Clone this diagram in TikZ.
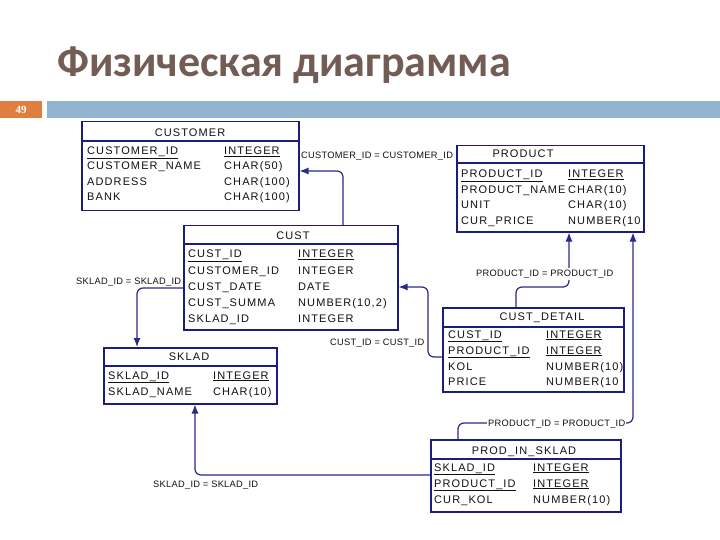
\documentclass[tikz,border=0pt]{standalone}
\usepackage{fontspec}
\setmainfont{Liberation Sans}
\newfontfamily\tabfont{Liberation Sans}[LetterSpace=10]
\newfontfamily\lblfont{Liberation Sans}[LetterSpace=3]
\newfontfamily\titlefont{Carlito}
\newfontfamily\numfont{Liberation Serif}
\usetikzlibrary{arrows.meta}
\definecolor{navy}{HTML}{1C1C7A}
\definecolor{conncol}{HTML}{2A2A8C}
\definecolor{titlecol}{HTML}{735C54}
\definecolor{barblue}{HTML}{93B4D0}
\definecolor{barorange}{HTML}{DF7E3F}
\definecolor{txt}{HTML}{111111}
\tikzset{
  tbl/.style={draw=navy, line width=1.5pt, fill=white, inner sep=0pt, anchor=north west},
  cell/.style={anchor=base west, inner sep=0pt, text=txt, font=\tabfont\fontsize{11}{13}\selectfont},
  ttl/.style={anchor=base, inner sep=0pt, text=txt, font=\tabfont\fontsize{11}{13}\selectfont},
  lbl/.style={anchor=base west, inner sep=0pt, text=txt, font=\lblfont\fontsize{9.3}{11}\selectfont},
  sepline/.style={draw=navy, line width=1.2pt},
  conn/.style={draw=conncol, line width=1.2pt, rounded corners=6pt},
  arr/.style={-{Latex[length=9pt,width=7pt]}}
}
\newcommand\trow[6]{%
  \node[cell] (#1a) at (#2,#4) {#5};
  \node[cell] (#1b) at (#3,#4) {#6};}
\begin{document}
\begin{tikzpicture}[x=1pt,y=-1pt]
\fill[white] (0,0) rectangle (720,540);
\useasboundingbox (0,0) rectangle (720,540);
% title and bar
\node[anchor=base west, inner sep=0pt, text=titlecol, font=\titlefont\bfseries\fontsize{44}{50}\selectfont] (title) at (57,77) {Физическая диаграмма};
\node[fill=barorange, anchor=north west, minimum width=42pt, minimum height=17pt, inner sep=0pt, text=white, font=\numfont\bfseries\fontsize{11}{12}\selectfont] (num) at (0,101) {49};
\node[fill=barblue, anchor=north west, minimum width=673pt, minimum height=17pt, inner sep=0pt] (bar) at (47,101) {};
% CUSTOMER
\node[tbl, minimum width=217pt, minimum height=89pt] (customer) at (81,121) {};
\draw[sepline] ([yshift=-20pt]customer.north west) -- ([yshift=-20pt]customer.north east);
\node[ttl] (customerT) at (190,137) {CUSTOMER};
\trow{cu1}{87}{224}{155}{\underline{CUSTOMER\_ID}}{\underline{INTEGER}}
\trow{cu2}{87}{224}{170}{CUSTOMER\_NAME}{CHAR(50)}
\trow{cu3}{87}{224}{185.5}{ADDRESS}{CHAR(100)}
\trow{cu4}{87}{224}{201}{BANK}{CHAR(100)}
% PRODUCT
\node[tbl, minimum width=187pt, minimum height=86pt] (product) at (456,145) {};
\draw[sepline] ([yshift=-18pt]product.north west) -- ([yshift=-18pt]product.north east);
\node[ttl] (productT) at (523,158) {PRODUCT};
\trow{pr1}{461}{568}{178}{\underline{PRODUCT\_ID}}{\underline{INTEGER}}
\trow{pr2}{461}{568}{193.5}{PRODUCT\_NAME}{CHAR(10)}
\trow{pr3}{461}{568}{209}{UNIT}{CHAR(10)}
\trow{pr4}{461}{568}{224.5}{CUR\_PRICE}{NUMBER(10}
% CUST
\node[tbl, minimum width=214pt, minimum height=104pt] (cust) at (183,225) {};
\draw[sepline] ([yshift=-19pt]cust.north west) -- ([yshift=-19pt]cust.north east);
\node[ttl] (custT) at (293,240) {CUST};
\trow{cs1}{188}{298}{258}{\underline{CUST\_ID}}{\underline{INTEGER}}
\trow{cs2}{188}{298}{274}{CUSTOMER\_ID}{INTEGER}
\trow{cs3}{188}{298}{290}{CUST\_DATE}{DATE}
\trow{cs4}{188}{298}{306}{CUST\_SUMMA}{NUMBER(10,2)}
\trow{cs5}{188}{298}{322}{SKLAD\_ID}{INTEGER}
% SKLAD
\node[tbl, minimum width=173pt, minimum height=56pt] (sklad) at (103,347) {};
\draw[sepline] ([yshift=-19pt]sklad.north west) -- ([yshift=-19pt]sklad.north east);
\node[ttl] (skladT) at (189,360) {SKLAD};
\trow{sk1}{108}{213}{379}{\underline{SKLAD\_ID}}{\underline{INTEGER}}
\trow{sk2}{108}{213}{395}{SKLAD\_NAME}{CHAR(10)}
% CUST_DETAIL
\node[tbl, minimum width=181pt, minimum height=84pt] (cdet) at (442,307) {};
\draw[sepline] ([yshift=-20pt]cdet.north west) -- ([yshift=-20pt]cdet.north east);
\node[ttl] (cdetT) at (542,320) {CUST\_DETAIL};
\trow{cd1}{448}{546}{338}{\underline{CUST\_ID}}{\underline{INTEGER}}
\trow{cd2}{448}{546}{354}{\underline{PRODUCT\_ID}}{\underline{INTEGER}}
\trow{cd3}{448}{546}{370}{KOL}{NUMBER(10)}
\trow{cd4}{448}{546}{385}{PRICE}{NUMBER(10}
% PROD_IN_SKLAD
\node[tbl, minimum width=190pt, minimum height=72pt] (pis) at (430,439) {};
\draw[sepline] ([yshift=-20pt]pis.north west) -- ([yshift=-20pt]pis.north east);
\node[ttl] (pisT) at (524,454) {PROD\_IN\_SKLAD};
\trow{ps1}{434}{533}{471}{\underline{SKLAD\_ID}}{\underline{INTEGER}}
\trow{ps2}{434}{533}{487}{\underline{PRODUCT\_ID}}{\underline{INTEGER}}
\trow{ps3}{434}{533}{503}{CUR\_KOL}{NUMBER(10)}
% connectors
\coordinate (k1) at (343,171);
\draw[conn,arr] (cust.north -| k1) |- (customer.east |- k1);
\node[lbl] (l1) at (301,159) {CUSTOMER\_ID = CUSTOMER\_ID};
\coordinate (k2a) at (428,357);
\coordinate (k2b) at (428,287);
\draw[conn,arr] (cdet.west |- k2a) -- (k2a) -- (k2b) -- (cust.east |- k2b);
\node[lbl] (l2) at (330,345) {CUST\_ID = CUST\_ID};
\coordinate (k3) at (137,288);
\draw[conn,arr] (cust.west |- k3) -| (sklad.north -| k3);
\node[lbl] (l3) at (76,284) {SKLAD\_ID = SKLAD\_ID};
\coordinate (k4a) at (516,287);
\coordinate (k4b) at (569,287);
\draw[conn,arr] (cdet.north -| k4a) -- (k4a) -- (k4b) -- (product.south -| k4b);
\node[lbl, fill=white, inner xsep=1pt, inner ysep=2pt] (l4) at (475,276) {PRODUCT\_ID = PRODUCT\_ID};
\coordinate (k5a) at (458,423);
\coordinate (k5b) at (633,423);
\draw[conn,arr] (pis.north -| k5a) -- (k5a) -- (k5b) -- (product.south -| k5b);
\node[lbl, fill=white, inner xsep=1pt, inner ysep=1pt] (l5) at (487,426) {PRODUCT\_ID = PRODUCT\_ID};
\coordinate (k6) at (195,475);
\draw[conn,arr] (pis.west |- k6) -| (sklad.south -| k6);
\node[lbl] (l6) at (153,487) {SKLAD\_ID = SKLAD\_ID};
\end{tikzpicture}
\end{document}
